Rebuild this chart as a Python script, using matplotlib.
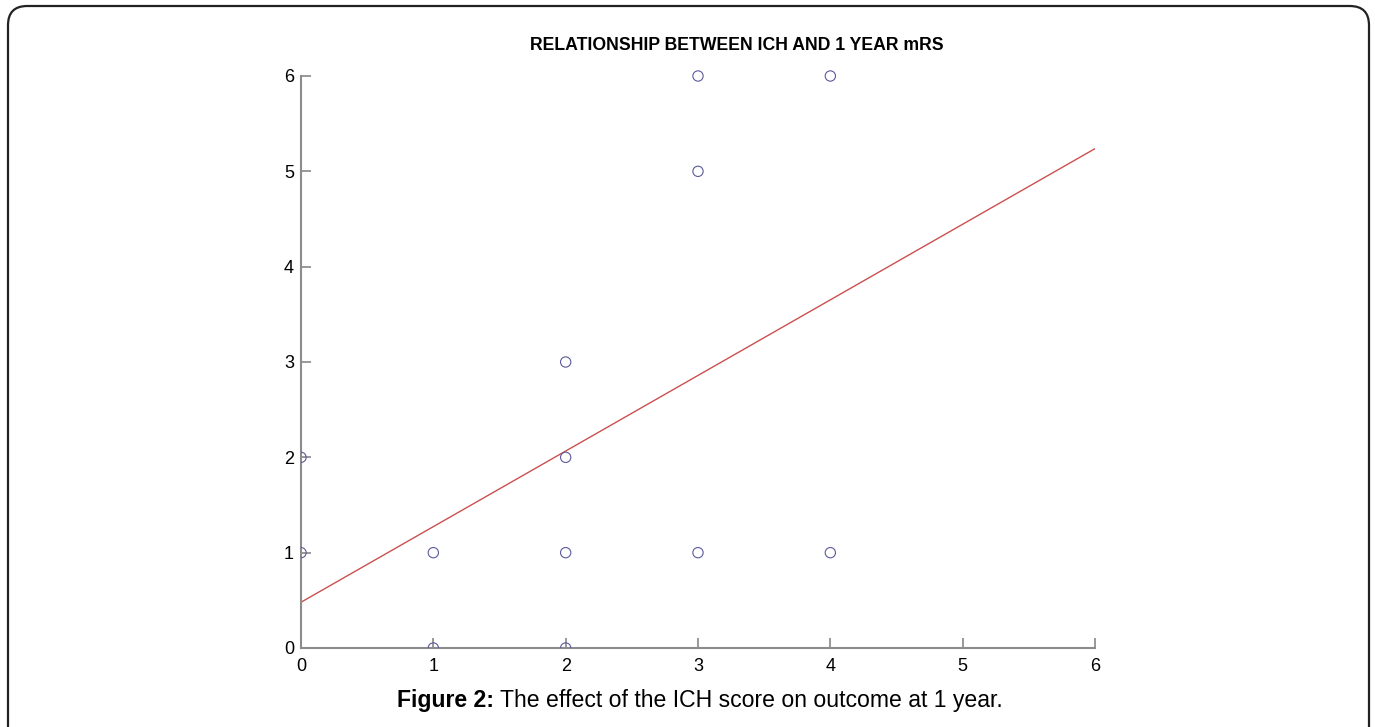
import matplotlib
matplotlib.use("Agg")
import matplotlib.pyplot as plt
from matplotlib.patches import FancyBboxPatch, Rectangle

plt.rcParams['font.family'] = ['Liberation Sans', 'DejaVu Sans']

# ICH score vs modified Rankin Scale at 1 year
ich_score = [0, 0, 1, 1, 2, 2, 2, 2, 3, 3, 3, 4, 4]
mrs_1yr = [1, 2, 0, 1, 0, 1, 2, 3, 1, 5, 6, 1, 6]

# fitted regression line
fit_intercept = 0.48
fit_slope = 0.793
fit_x = [0, 6]

ticks = [0, 1, 2, 3, 4, 5, 6]

W, H = 1375, 727
fig = plt.figure(figsize=(W / 100, H / 100), dpi=100)

# rounded frame around the figure panel (open at the bottom edge)
frame = FancyBboxPatch((8 / W, -0.05), 1361 / W, 0.05 + (H - 6) / H,
                       boxstyle="round,pad=0,rounding_size=0.014",
                       transform=fig.transFigure, fill=False,
                       edgecolor="#222222", linewidth=1.6, clip_on=False,
                       mutation_aspect=W / H)
fig.patches.append(frame)

ax = fig.add_axes([301 / W, 1 - 648 / H, 794 / W, 572 / H])
pts = ax.scatter(ich_score, mrs_1yr, s=55, facecolors='none',
                 edgecolors='#5a5a9c', linewidths=0.8, zorder=3)
# clip only at the left and bottom axes
clip = Rectangle((0, 0), 1.1, 1.1, transform=ax.transAxes,
                 fill=False, visible=False)
ax.add_patch(clip)
pts.set_clip_path(clip)

fy = [fit_intercept + fit_slope * x for x in fit_x]
ax.plot(fit_x, fy, color='#cc5050', linewidth=1.0, zorder=2)

ax.set_xlim(0, 6)
ax.set_ylim(0, 6)
ax.set_xticks(ticks)
ax.set_yticks(ticks)
ax.tick_params(direction='in', length=7, width=1.2, color='#888888',
               labelsize=13)
ax.tick_params(axis='x', pad=7)
ax.tick_params(axis='y', pad=5)
for side in ('top', 'right'):
    ax.spines[side].set_visible(False)
for side in ('left', 'bottom'):
    ax.spines[side].set_color('#8c8c8c')
    ax.spines[side].set_linewidth(1.5)

fig.text(737 / W, 1 - 46 / H, 'RELATIONSHIP BETWEEN ICH AND 1 YEAR mRS',
         ha='center', va='center', fontsize=12.7, fontweight='bold')

# caption: bold label followed by plain text, centred as one line
cap_y = 1 - 700 / H
cap_bold = fig.text(0, cap_y, 'Figure 2:', ha='left', va='center',
                    fontsize=16.6, fontweight='bold')
cap_rest = fig.text(0, cap_y, ' The effect of the ICH score on outcome at 1 year.',
                    ha='left', va='center', fontsize=16.6)
fig.canvas.draw()
r = fig.canvas.get_renderer()
wb = cap_bold.get_window_extent(r).width
wr = cap_rest.get_window_extent(r).width
x0 = 700 - (wb + wr) / 2
cap_bold.set_x(x0 / W)
cap_rest.set_x((x0 + wb) / W)

fig.savefig('out.png', dpi=100)
